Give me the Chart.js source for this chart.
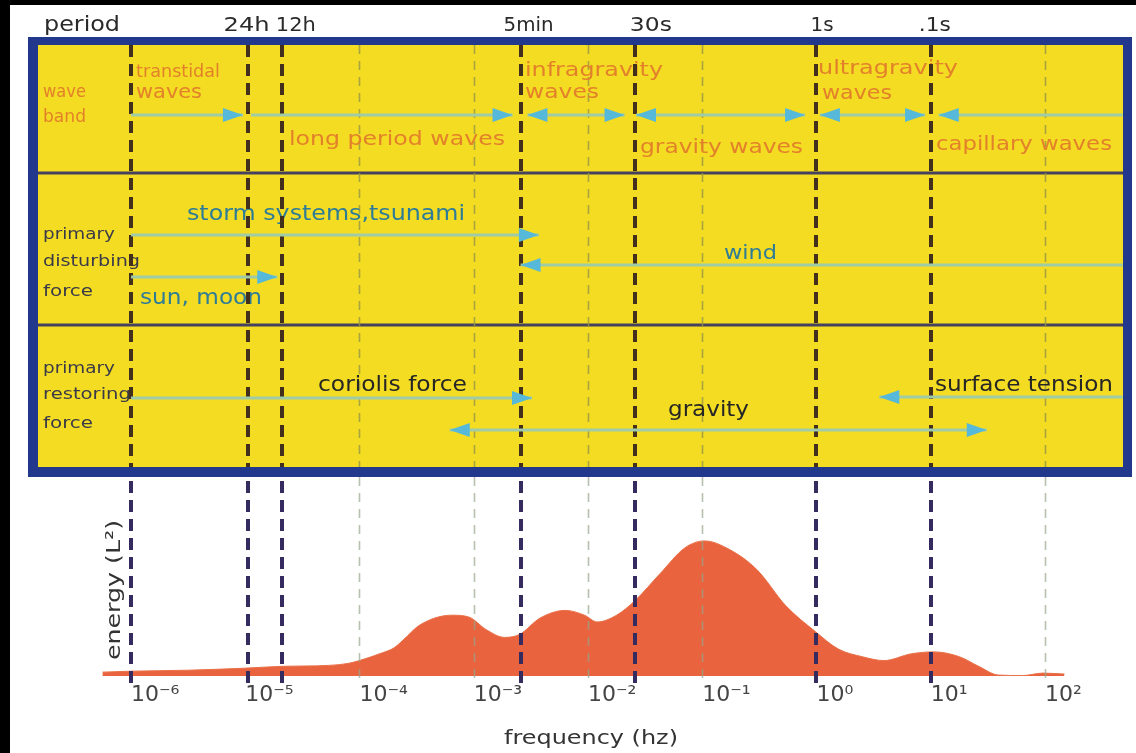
<!DOCTYPE html>
<html>
<head>
<meta charset="utf-8">
<script src="https://cdn.jsdelivr.net/npm/chart.js@4.4.1/dist/chart.umd.min.js"></script>
<style>
html,body{margin:0;padding:0;background:#fff;}
#wrap{width:1136px;height:753px;position:relative;}
canvas{display:block;}
</style>
</head>
<body>
<div id="wrap"><canvas id="c" width="1136" height="753"></canvas></div>
<script>
// ---------- data (x values are log10 of frequency in Hz) ----------
const tickValues = [-6, -5, -4, -3, -2, -1, 0, 1, 2];
const tickLabels = ['10⁻⁶', '10⁻⁵', '10⁻⁴', '10⁻³', '10⁻²', '10⁻¹', '10⁰', '10¹', '10²'];

const spectrumLogF = [-6.25, -6.0, -5.5, -5.02, -4.68, -4.27, -4.10, -4.0, -3.80, -3.70, -3.62, -3.47, -3.19, -3.04,
  -2.89, -2.73, -2.60, -2.42, -2.20, -2.03, -1.92, -1.75, -1.59, -1.37, -1.15, -0.98, -0.76, -0.52, -0.27,
  -0.01, 0.19, 0.40, 0.59, 0.83, 1.03, 1.25, 1.42, 1.59, 1.81, 1.98, 2.17];
const spectrumEnergy = [4, 5, 6, 8, 10, 11, 13, 16, 24, 29, 37, 53, 63, 61,
  48, 40, 43, 60, 68, 63, 56, 63, 78, 106, 133, 140, 131, 110, 73,
  46, 28, 20, 16, 23, 25, 20, 10, 1, 0.5, 3, 2];

const periodLabels = ['24h', '12h', '5min', '30s', '1s', '.1s'];
const periodLogF = [-4.98, -4.68, -2.59, -1.59, 0, 1];
const markerLogF = [-6, -4.98, -4.68, -2.59, -1.59, 0, 1];
const minorLogF = [-4, -3, -2, -1, 2];

const waveBandNames = ['transtidal waves', 'long period waves', 'infragravity waves', 'gravity waves', 'ultragravity waves', 'capillary waves'];
const waveBandFrom = [-6, -4.95, -2.53, -1.58, 0.03, 1.07];
const waveBandTo = [-5.02, -2.66, -1.68, -0.10, 0.95, 2.68];
const waveBandHeads = ['end', 'end', 'both', 'both', 'both', 'start'];

const disturbingNames = ['storm systems,tsunami', 'wind', 'sun, moon'];
const disturbingFrom = [-6, -2.59, -6];
const disturbingTo = [-2.43, 2.68, -4.72];
const disturbingHeads = ['end', 'start', 'end'];

const restoringNames = ['coriolis force', 'surface tension', 'gravity'];
const restoringFrom = [-6, 0.55, -3.21];
const restoringTo = [-2.49, 2.68, 1.49];
const restoringHeads = ['end', 'start', 'both'];

// ---------- drawing helpers ----------
const FONT = '"DejaVu Sans", Verdana, sans-serif';
function txt(ctx, s, x, y, size, color, width) {
  ctx.save();
  ctx.font = size + 'px ' + FONT;
  const w = ctx.measureText(s).width;
  const sx = width ? width / w : 1;
  ctx.translate(x, y);
  ctx.scale(sx, 1);
  ctx.fillStyle = color;
  ctx.textAlign = 'left';
  ctx.textBaseline = 'alphabetic';
  ctx.fillText(s, 0, 0);
  ctx.restore();
}
function head(ctx, tipX, y, dir) {
  const L = 20, H = 7;
  ctx.beginPath();
  ctx.moveTo(tipX, y);
  ctx.lineTo(tipX - dir * L, y - H);
  ctx.lineTo(tipX - dir * L, y + H);
  ctx.closePath();
  ctx.fill();
}
function arrow(ctx, xs, a, b, y, heads) {
  const x1 = xs.getPixelForValue(a), x2 = xs.getPixelForValue(b);
  ctx.save();
  ctx.strokeStyle = '#9fcca6';
  ctx.lineWidth = 3;
  ctx.beginPath();
  ctx.moveTo(x1, y); ctx.lineTo(x2, y);
  ctx.stroke();
  ctx.fillStyle = '#56b9d9';
  if (heads === 'end' || heads === 'both') head(ctx, x2, y, 1);
  if (heads === 'start' || heads === 'both') head(ctx, x1, y, -1);
  ctx.restore();
}

const BOX = {l: 28, t: 37, r: 1132, b: 477, il: 38, it: 45, ir: 1123, ib: 467};

const diagram = {
  id: 'diagram',
  beforeDraw(chart) {
    const ctx = chart.ctx;
    ctx.save();
    ctx.fillStyle = '#ffffff';
    ctx.fillRect(0, 0, chart.width, chart.height);
    ctx.fillStyle = '#000000';
    ctx.fillRect(0, 0, chart.width, 5);
    ctx.fillRect(0, 0, 10, chart.height);
    // box
    ctx.fillStyle = '#22388d';
    ctx.fillRect(BOX.l, BOX.t, BOX.r - BOX.l, BOX.b - BOX.t);
    ctx.fillStyle = '#f3dc22';
    ctx.fillRect(BOX.il, BOX.it, BOX.ir - BOX.il, BOX.ib - BOX.it);
    ctx.strokeStyle = '#45415e';
    ctx.lineWidth = 3;
    [173, 325].forEach(y => {
      ctx.beginPath(); ctx.moveTo(BOX.il, y); ctx.lineTo(BOX.ir, y); ctx.stroke();
    });
    ctx.restore();
  },
  afterDatasetsDraw(chart) {
    const ctx = chart.ctx;
    const xs = chart.scales.x;
    ctx.save();
    // minor decade lines
    ctx.lineWidth = 1.6;
    ctx.setLineDash([9, 7]);
    minorLogF.forEach(v => {
      const x = Math.round(xs.getPixelForValue(v)) + 0.5;
      ctx.strokeStyle = 'rgba(150,150,70,0.8)';
      ctx.beginPath(); ctx.moveTo(x, BOX.it); ctx.lineTo(x, BOX.ib); ctx.stroke();
      ctx.strokeStyle = 'rgba(150,165,140,0.7)';
      ctx.beginPath(); ctx.moveTo(x, BOX.b); ctx.lineTo(x, 684); ctx.stroke();
    });
    ctx.setLineDash([]);

    // texts in box
    const OR = '#e3812b', DK = '#3a3a48', TE = '#2f7c97', BK = '#262626';
    txt(ctx, 'wave', 43, 97, 17, OR, 43);
    txt(ctx, 'band', 43, 122, 17, OR, 43);
    txt(ctx, 'transtidal', 136, 77, 18, OR, 84);
    txt(ctx, 'waves', 136, 98, 19, OR, 66);
    txt(ctx, waveBandNames[1], 289, 145, 20, OR, 216);
    txt(ctx, 'infragravity', 525, 76, 20, OR, 138);
    txt(ctx, 'waves', 525, 98, 20, OR, 74);
    txt(ctx, waveBandNames[3], 640, 153, 20, OR, 163);
    txt(ctx, 'ultragravity', 818, 74, 20, OR, 140);
    txt(ctx, 'waves', 822, 99, 20, OR, 70);
    txt(ctx, waveBandNames[5], 936, 150, 20, OR, 176);

    txt(ctx, 'primary', 43, 239, 16, DK, 72);
    txt(ctx, 'disturbing', 43, 266, 16, DK, 97);
    txt(ctx, 'force', 43, 296, 16, DK, 50);
    txt(ctx, 'primary', 43, 373, 16, DK, 72);
    txt(ctx, 'restoring', 43, 399, 16, DK, 88);
    txt(ctx, 'force', 43, 428, 16, DK, 50);

    txt(ctx, disturbingNames[0], 187, 220, 21, TE, 278);
    txt(ctx, disturbingNames[1], 724, 259, 20, TE, 53);
    txt(ctx, disturbingNames[2], 140, 304, 21, TE, 122);

    txt(ctx, restoringNames[0], 318, 391, 21, BK, 149);
    txt(ctx, restoringNames[2], 668, 416, 21, BK, 81);
    txt(ctx, restoringNames[1], 935, 391, 21, BK, 178);

    // period labels above box
    txt(ctx, 'period', 44, 31, 21, '#2a2a2a', 76);
    const dx = [-24, -6, -17, -5, -6, -12];
    const pw = [46, 40, 50, 42, 23, 32];
    periodLabels.forEach((s, i) => {
      txt(ctx, s, xs.getPixelForValue(periodLogF[i]) + dx[i], 31, 20, '#2a2a2a', pw[i]);
    });

    // thick period marker lines
    ctx.lineWidth = 4;
    ctx.setLineDash([12, 7]);
    markerLogF.forEach(v => {
      const x = Math.round(xs.getPixelForValue(v));
      ctx.strokeStyle = '#43301c';
      ctx.beginPath(); ctx.moveTo(x, BOX.it); ctx.lineTo(x, BOX.ib); ctx.stroke();
      ctx.strokeStyle = '#352b5e';
      ctx.beginPath(); ctx.moveTo(x, BOX.b + 4); ctx.lineTo(x, 686); ctx.stroke();
    });
    ctx.setLineDash([]);

    // arrows
    waveBandFrom.forEach((a, i) => arrow(ctx, xs, a, waveBandTo[i], 115, waveBandHeads[i]));
    const dY = [235, 265, 277];
    disturbingFrom.forEach((a, i) => arrow(ctx, xs, a, disturbingTo[i], dY[i], disturbingHeads[i]));
    const rY = [398, 397, 430];
    restoringFrom.forEach((a, i) => arrow(ctx, xs, a, restoringTo[i], rY[i], restoringHeads[i]));

    // axis titles
    txt(ctx, 'frequency (hz)', 504, 744, 20, '#333333', 174);
    ctx.save();
    ctx.translate(120, 660);
    ctx.rotate(-Math.PI / 2);
    txt(ctx, 'energy (L²)', 0, 0, 20, '#333333', 140);
    ctx.restore();
    ctx.restore();
  }
};

// ---------- chart ----------
const points = spectrumLogF.map((x, i) => ({x: x, y: spectrumEnergy[i]}));

new Chart(document.getElementById('c'), {
  type: 'scatter',
  data: {
    datasets: [{
      label: 'energy',
      data: points,
      showLine: true,
      fill: 'origin',
      backgroundColor: '#e8633e',
      borderColor: '#ea7048',
      borderWidth: 1,
      pointRadius: 0,
      cubicInterpolationMode: 'monotone'
    }]
  },
  options: {
    responsive: false,
    animation: false,
    events: [],
    layout: {padding: {left: 28, right: 4, top: 483, bottom: 38.6}},
    plugins: {legend: {display: false}, tooltip: {enabled: false}},
    scales: {
      x: {
        type: 'linear',
        min: -6.9015,
        max: 2.7615,
        afterBuildTicks: (s) => { s.ticks = tickValues.map(v => ({value: v})); },
        grid: {display: false, drawTicks: false},
        border: {display: false},
        ticks: {
          autoSkip: false,
          maxRotation: 0,
          align: 'start',
          padding: 6,
          color: '#444444',
          font: {family: 'DejaVu Sans', size: 22},
          callback: (v) => tickLabels[tickValues.indexOf(v)] ?? ''
        }
      },
      y: {type: 'linear', min: 0, max: 200, display: false}
    }
  },
  plugins: [diagram]
});
</script>
</body>
</html>
